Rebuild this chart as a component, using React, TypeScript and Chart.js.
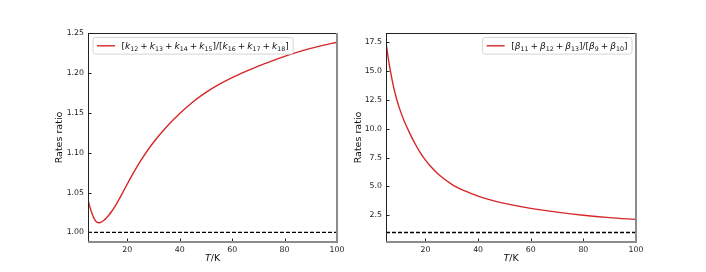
import React, { useEffect, useRef } from "react";
import { Chart, registerables } from "chart.js";

Chart.register(...registerables);

// ---- data ----
const leftT = [5, 5.5, 6, 6.5, 7, 7.5, 8, 8.5, 9, 9.5, 10, 11, 12, 13, 14, 15, 16, 17, 18, 19, 20, 22, 25, 30, 35, 40, 45, 50, 55, 60, 65, 70, 75, 80, 85, 90, 95, 100];
const leftRatio = [1.041, 1.0345, 1.029, 1.024, 1.0198, 1.0165, 1.014, 1.0125, 1.0121, 1.0123, 1.013, 1.015, 1.018, 1.0218, 1.0262, 1.0311, 1.0365, 1.0423, 1.0484, 1.0546, 1.0608, 1.0728, 1.0895, 1.113, 1.1325, 1.149, 1.1635, 1.1755, 1.1855, 1.194, 1.2015, 1.2085, 1.2148, 1.2207, 1.226, 1.2307, 1.2348, 1.2385];

const rightT = [5, 6, 7, 8, 9, 10, 11, 12, 13, 14, 16, 18, 20, 22, 25, 30, 35, 40, 45, 50, 60, 70, 80, 90, 100];
const rightRatio = [17.5, 15.9, 14.6, 13.5, 12.6, 11.85, 11.2, 10.62, 10.1, 9.62, 8.72, 7.93, 7.28, 6.72, 6.03, 5.18, 4.6, 4.15, 3.8, 3.52, 3.09, 2.77, 2.5, 2.29, 2.13];

const xTicks = [20, 40, 60, 80, 100];
const leftYTicks = [1.0, 1.05, 1.1, 1.15, 1.2, 1.25];
const rightYTicks = [2.5, 5.0, 7.5, 10.0, 12.5, 15.0, 17.5];
const referenceLevel = 1;
const xRange = [5, 100];
const leftYRange = [0.988, 1.25];
const rightYRange = [0.175, 18.3];

const xTitle = [{ t: "T", it: true }, { t: "/K" }];
const yTitle = "Rates ratio";

type Seg = { t: string; it?: boolean; sub?: boolean; op?: boolean };

function sumTerms(sym: string, subs: string[]): Seg[] {
  const out: Seg[] = [];
  subs.forEach((s, i) => {
    if (i > 0) out.push({ t: "+", op: true });
    out.push({ t: sym, it: true });
    out.push({ t: s, sub: true });
  });
  return out;
}

const leftLegend: Seg[] = [
  { t: "[" },
  ...sumTerms("k", ["12", "13", "14", "15"]),
  { t: "]/[" },
  ...sumTerms("k", ["16", "17", "18"]),
  { t: "]" },
];
const rightLegend: Seg[] = [
  { t: "[" },
  ...sumTerms("β", ["11", "12", "13"]),
  { t: "]/[" },
  ...sumTerms("β", ["9", "10"]),
  { t: "]" },
];

const FONT = '"DejaVu Sans", sans-serif';
const RED = "#d62728";

function segFont(s: Seg, size: number) {
  const sz = s.sub ? size * 0.7 : size;
  return `${s.it ? "italic " : ""}${sz}px ${FONT}`;
}

function measureSegs(ctx: CanvasRenderingContext2D, segs: Seg[], size: number) {
  let w = 0;
  for (const s of segs) {
    ctx.font = segFont(s, size);
    w += ctx.measureText(s.t).width + (s.op ? size * 0.44 : 0);
  }
  return w;
}

function drawSegs(ctx: CanvasRenderingContext2D, segs: Seg[], size: number, x: number, y: number) {
  ctx.textBaseline = "alphabetic";
  ctx.textAlign = "left";
  let cx = x;
  for (const s of segs) {
    ctx.font = segFont(s, size);
    if (s.op) cx += size * 0.22;
    ctx.fillText(s.t, cx, s.sub ? y + size * 0.22 : y);
    cx += ctx.measureText(s.t).width;
    if (s.op) cx += size * 0.22;
  }
}

type PanelCfg = {
  T: number[];
  R: number[];
  yRange: number[];
  yTicks: number[];
  decimals: number;
  legend: Seg[];
  legendSide: "left" | "right";
  yAxisWidth: number;
  padRight: number;
  yTitleX: number;
};

function framePlugin(cfg: PanelCfg) {
  return {
    id: "mplFrame",
    afterDraw(chart: any) {
      const ctx: CanvasRenderingContext2D = chart.ctx;
      const a = chart.chartArea;
      const xs = chart.scales.x;
      const ys = chart.scales.y;
      ctx.save();
      // inward ticks
      ctx.strokeStyle = "#222";
      ctx.lineWidth = 1;
      ctx.beginPath();
      for (const v of xTicks) {
        const px = Math.round(xs.getPixelForValue(v)) + 0.5;
        ctx.moveTo(px, a.bottom);
        ctx.lineTo(px, a.bottom - 3.5);
      }
      for (const v of cfg.yTicks) {
        const py = Math.round(ys.getPixelForValue(v)) + 0.5;
        ctx.moveTo(a.left, py);
        ctx.lineTo(a.left + 3.5, py);
      }
      ctx.stroke();
      // frame: left/top crisp dark, right/bottom soft
      ctx.fillStyle = "#222";
      ctx.fillRect(a.left, a.top, a.right - a.left, 1);
      ctx.fillRect(a.left, a.top, 1, a.bottom - a.top);
      ctx.fillStyle = "#8c8c8c";
      ctx.fillRect(a.left, a.bottom - 1, a.right - a.left + 1, 2);
      ctx.fillRect(a.right - 1, a.top, 2, a.bottom - a.top + 1);

      // axis titles
      ctx.fillStyle = "#111";
      const ts = 9.5;
      const tw = measureSegs(ctx, xTitle as Seg[], ts);
      drawSegs(ctx, xTitle as Seg[], ts, (a.left + a.right) / 2 - tw / 2, 261);
      ctx.save();
      ctx.translate(cfg.yTitleX, (a.top + a.bottom) / 2);
      ctx.rotate(-Math.PI / 2);
      ctx.font = `${ts}px ${FONT}`;
      ctx.textAlign = "center";
      ctx.textBaseline = "middle";
      ctx.fillText(yTitle, 0, 0);
      ctx.restore();

      // legend
      const fs = 9;
      const textW = measureSegs(ctx, cfg.legend, fs);
      const padL = 4.5, handle = 18, gap = 6.5, padR = 4;
      const boxW = padL + handle + gap + textW + padR;
      const boxH = 16.6;
      const bx = cfg.legendSide === "left" ? a.left + 4.5 : a.right - 4.5 - boxW;
      const by = a.top + 4;
      ctx.beginPath();
      ctx.roundRect(bx + 0.5, by + 0.5, boxW, boxH, 2.5);
      ctx.fillStyle = "rgba(255,255,255,0.85)";
      ctx.fill();
      ctx.strokeStyle = "#d6d6d6";
      ctx.lineWidth = 1;
      ctx.stroke();
      ctx.beginPath();
      ctx.strokeStyle = RED;
      ctx.lineWidth = 1.4;
      const ly = by + boxH / 2 + 0.5;
      ctx.moveTo(bx + padL, ly);
      ctx.lineTo(bx + padL + handle, ly);
      ctx.stroke();
      ctx.fillStyle = "#111";
      drawSegs(ctx, cfg.legend, fs, bx + padL + handle + gap, by + boxH / 2 + 3.3);
      ctx.restore();
    },
  };
}

function Panel({ cfg }: { cfg: PanelCfg }) {
  const ref = useRef<HTMLCanvasElement | null>(null);
  useEffect(() => {
    if (!ref.current) return;
    const chart = new Chart(ref.current, {
      type: "line",
      data: {
        datasets: [
          {
            data: cfg.T.map((t, i) => ({ x: t, y: cfg.R[i] })),
            borderColor: RED,
            borderWidth: 1.4,
            pointRadius: 0,
            cubicInterpolationMode: "monotone",
          },
          {
            data: [
              { x: xRange[0], y: referenceLevel },
              { x: xRange[1], y: referenceLevel },
            ],
            borderColor: "#000",
            borderWidth: 1.3,
            borderDash: [4, 2],
            pointRadius: 0,
          },
        ],
      },
      options: {
        responsive: false,
        animation: false,
        devicePixelRatio: 1,
        layout: { padding: { left: 0, right: cfg.padRight, top: 33, bottom: 0 } },
        plugins: { legend: { display: false }, tooltip: { enabled: false } },
        scales: {
          x: {
            type: "linear",
            min: xRange[0],
            max: xRange[1],
            grid: { display: false, drawTicks: false },
            border: { display: false },
            afterBuildTicks: (s: any) => {
              s.ticks = xTicks.map((v) => ({ value: v }));
            },
            afterFit: (s: any) => {
              s.height = 30;
            },
            ticks: {
              autoSkip: false,
              maxRotation: 0,
              padding: 3,
              color: "#222",
              font: { family: FONT, size: 7.8 },
              callback: (v: any) => String(v),
            },
          },
          y: {
            type: "linear",
            min: cfg.yRange[0],
            max: cfg.yRange[1],
            grid: { display: false, drawTicks: false },
            border: { display: false },
            afterBuildTicks: (s: any) => {
              s.ticks = cfg.yTicks.map((v) => ({ value: v }));
            },
            afterFit: (s: any) => {
              s.width = cfg.yAxisWidth;
            },
            ticks: {
              autoSkip: false,
              padding: 4,
              color: "#222",
              font: { family: FONT, size: 7.8 },
              callback: (v: any) => Number(v).toFixed(cfg.decimals),
            },
          },
        },
      } as any,
      plugins: [framePlugin(cfg)],
    });
    return () => chart.destroy();
  }, [cfg]);
  return <canvas ref={ref} width={353} height={272} style={{ display: "block", width: 353, height: 272 }} />;
}

const leftCfg: PanelCfg = {
  T: leftT,
  R: leftRatio,
  yRange: leftYRange,
  yTicks: leftYTicks,
  decimals: 2,
  legend: leftLegend,
  legendSide: "left",
  yAxisWidth: 88,
  padRight: 16,
  yTitleX: 60,
};
const rightCfg: PanelCfg = {
  T: rightT,
  R: rightRatio,
  yRange: rightYRange,
  yTicks: rightYTicks,
  decimals: 1,
  legend: rightLegend,
  legendSide: "right",
  yAxisWidth: 33,
  padRight: 70,
  yTitleX: 6,
};

export default function App() {
  return (
    <div style={{ position: "absolute", left: 0, top: 0, width: 706, height: 272, background: "#fff", display: "flex" }}>
      <Panel cfg={leftCfg} />
      <Panel cfg={rightCfg} />
    </div>
  );
}
